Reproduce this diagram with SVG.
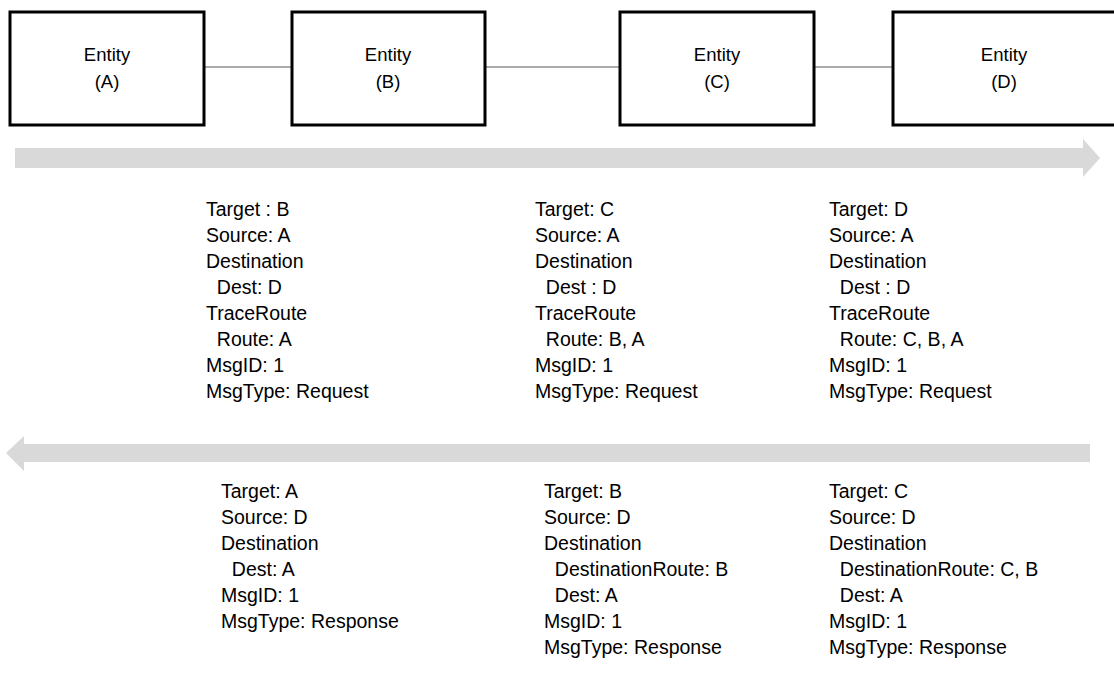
<svg xmlns="http://www.w3.org/2000/svg" width="1114" height="674" viewBox="0 0 1114 674">
<style>
.box{fill:#fff;stroke:#000;stroke-width:3}
.lbl{font-family:"Liberation Sans",Arial,sans-serif;font-size:19.5px;fill:#000}
.ent{font-family:"Liberation Sans",Arial,sans-serif;font-size:18.5px;fill:#000;text-anchor:middle}
.conn{stroke:#595959;stroke-width:1.2;fill:none}
.flow{fill:#d9d9d9}
</style>
<rect width="1114" height="674" fill="#fff"/>
<g id="connectors">
<line class="conn" x1="204" y1="67" x2="291" y2="67"/>
<line class="conn" x1="485" y1="67" x2="619" y2="67"/>
<line class="conn" x1="814" y1="67" x2="892" y2="67"/>
</g>
<g id="nodeA">
<rect class="box" x="10" y="12" width="194" height="113"/>
<text class="ent" x="107" y="61">Entity</text>
<text class="ent" x="107" y="88">(A)</text>
</g>
<g id="nodeB">
<rect class="box" x="292" y="12" width="193" height="113"/>
<text class="ent" x="388" y="61">Entity</text>
<text class="ent" x="388" y="88">(B)</text>
</g>
<g id="nodeC">
<rect class="box" x="620" y="12" width="194" height="113"/>
<text class="ent" x="717" y="61">Entity</text>
<text class="ent" x="717" y="88">(C)</text>
</g>
<g id="nodeD">
<rect class="box" x="893" y="12" width="230" height="113"/>
<text class="ent" x="1004" y="61">Entity</text>
<text class="ent" x="1004" y="88">(D)</text>
</g>
<g id="requestFlow">
<polygon class="flow" points="15,148 1083,148 1083,139 1100,158 1083,177 1083,168 15,168"/>
</g>
<g id="responseFlow">
<polygon class="flow" points="1090,444 24,444 24,436 6,453 24,471 24,462 1090,462"/>
</g>
<g id="req1" class="lbl">
<text x="206" y="216">Target : B</text>
<text x="206" y="242">Source: A</text>
<text x="206" y="268">Destination</text>
<text x="206" y="294" xml:space="preserve">  Dest: D</text>
<text x="206" y="320">TraceRoute</text>
<text x="206" y="346" xml:space="preserve">  Route: A</text>
<text x="206" y="372">MsgID: 1</text>
<text x="206" y="398">MsgType: Request</text>
</g>
<g id="req2" class="lbl">
<text x="535" y="216">Target: C</text>
<text x="535" y="242">Source: A</text>
<text x="535" y="268">Destination</text>
<text x="535" y="294" xml:space="preserve">  Dest : D</text>
<text x="535" y="320">TraceRoute</text>
<text x="535" y="346" xml:space="preserve">  Route: B, A</text>
<text x="535" y="372">MsgID: 1</text>
<text x="535" y="398">MsgType: Request</text>
</g>
<g id="req3" class="lbl">
<text x="829" y="216">Target: D</text>
<text x="829" y="242">Source: A</text>
<text x="829" y="268">Destination</text>
<text x="829" y="294" xml:space="preserve">  Dest : D</text>
<text x="829" y="320">TraceRoute</text>
<text x="829" y="346" xml:space="preserve">  Route: C, B, A</text>
<text x="829" y="372">MsgID: 1</text>
<text x="829" y="398">MsgType: Request</text>
</g>
<g id="resp1" class="lbl">
<text x="221" y="498">Target: A</text>
<text x="221" y="524">Source: D</text>
<text x="221" y="550">Destination</text>
<text x="221" y="576" xml:space="preserve">  Dest: A</text>
<text x="221" y="602">MsgID: 1</text>
<text x="221" y="628">MsgType: Response</text>
</g>
<g id="resp2" class="lbl">
<text x="544" y="498">Target: B</text>
<text x="544" y="524">Source: D</text>
<text x="544" y="550">Destination</text>
<text x="544" y="576" xml:space="preserve">  DestinationRoute: B</text>
<text x="544" y="602" xml:space="preserve">  Dest: A</text>
<text x="544" y="628">MsgID: 1</text>
<text x="544" y="654">MsgType: Response</text>
</g>
<g id="resp3" class="lbl">
<text x="829" y="498">Target: C</text>
<text x="829" y="524">Source: D</text>
<text x="829" y="550">Destination</text>
<text x="829" y="576" xml:space="preserve">  DestinationRoute: C, B</text>
<text x="829" y="602" xml:space="preserve">  Dest: A</text>
<text x="829" y="628">MsgID: 1</text>
<text x="829" y="654">MsgType: Response</text>
</g>
</svg>
